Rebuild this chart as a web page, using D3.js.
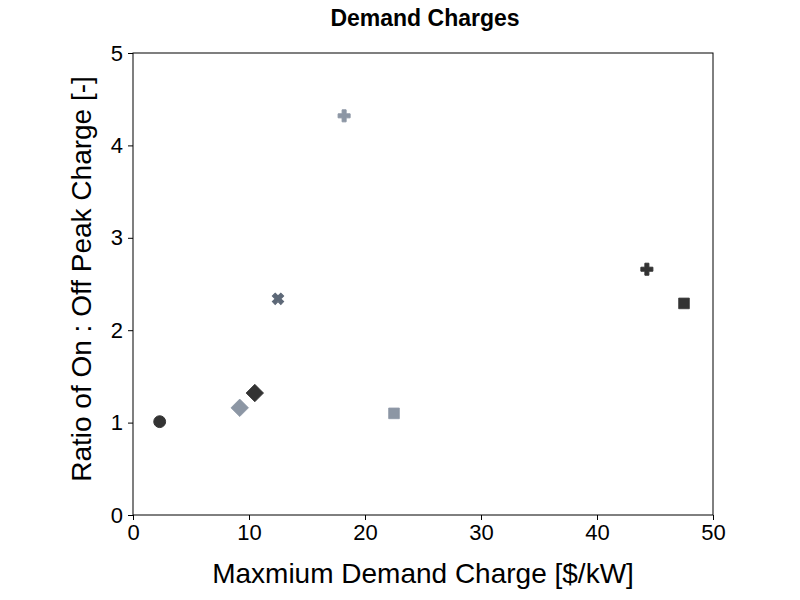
<!DOCTYPE html><html><head><script src="https://cdn.jsdelivr.net/npm/d3@7"></script>
<style>body{margin:0;background:#fff}</style></head><body><svg id="c" width="800" height="600"></svg>
<script>
const xValues=[2.3,9.2,10.5,12.5,18.2,22.5,44.3,47.5];
const yValues=[1.01,1.16,1.32,2.34,4.32,1.10,2.66,2.29];
const shapes=["circle","diamond","diamond","cross","plus","square","plus","square"];
const colors=["#333333","#8c96a4","#333333","#5d6877","#8c96a4","#8c96a4","#333333","#333333"];
const xTicks=[0,10,20,30,40,50], yTicks=[0,1,2,3,4,5];
const svg=d3.select("#c");
const L=133,R=713,T=53,B=515;
const x=d3.scaleLinear().domain([0,50]).range([L,R]);
const y=d3.scaleLinear().domain([0,5]).range([B,T]);
const font="Liberation Sans, Arial, sans-serif";
const gx=svg.append("g").attr("transform",`translate(0,${B})`).call(d3.axisBottom(x).tickValues(xTicks).tickFormat(d3.format("d")).tickSize(5).tickPadding(4));
const gy=svg.append("g").attr("transform",`translate(${L},0)`).call(d3.axisLeft(y).tickValues(yTicks).tickFormat(d3.format("d")).tickSize(5).tickPadding(5));
[gx,gy].forEach(g=>{g.selectAll("text").attr("font-size",22).attr("font-family",font).attr("fill","#000");g.selectAll("line,path").attr("stroke","#000");g.select(".domain").remove();});
svg.append("rect").attr("x",L).attr("y",T).attr("width",R-L).attr("height",B-T).attr("fill","none").attr("stroke","#000").attr("stroke-width",1);
const sym={circle:d3.symbolCircle,diamond:d3.symbolDiamond2,square:d3.symbolSquare2,plus:d3.symbolCross,cross:d3.symbolCross};
xValues.forEach((v,i)=>{
  const s=shapes[i];
  const size=s==="circle"?110:s==="plus"||s==="cross"?80:s==="square"?9:11;
  const p=d3.symbol(sym[s]).size(size)();
  svg.append("path").attr("d",p)
   .attr("transform",`translate(${x(v)},${y(yValues[i])})${s==="cross"?" rotate(45)":""}${s==="square"?" scale(4)":""}${s==="diamond"?" scale(4.2)":""}`)
   .attr("fill",colors[i]).attr("stroke",colors[i]).attr("stroke-width",s==="square"||s==="diamond"?0.2:1);
});
svg.append("text").attr("x",425).attr("y",26).attr("text-anchor","middle").attr("font-family",font).attr("font-weight","bold").attr("font-size",23).text("Demand Charges");
svg.append("text").attr("x",423).attr("y",583).attr("text-anchor","middle").attr("font-family",font).attr("font-size",28).text("Maxmium Demand Charge [$/kW]");
svg.append("text").attr("transform",`translate(91,${(T+B)/2-5}) rotate(-90)`).attr("text-anchor","middle").attr("font-family",font).attr("font-size",28).text("Ratio of On : Off Peak Charge [-]");
</script></body></html>
